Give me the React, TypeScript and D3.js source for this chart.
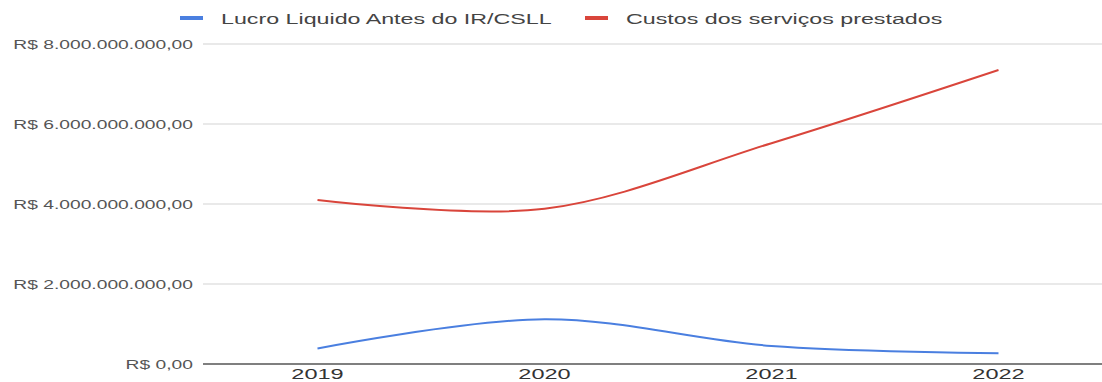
import React from "react";
import * as d3 from "d3";

const years = ["2019", "2020", "2021", "2022"];
const lucroValues = [0.39e9, 1.12e9, 0.45e9, 0.27e9];
const custosValues = [4.1e9, 3.88e9, 5.52e9, 7.35e9];
const yTicks = [0, 2e9, 4e9, 6e9, 8e9];
const seriesNames = ["Lucro Liquido Antes do IR/CSLL", "Custos dos serviços prestados"];
const seriesColors = ["#4a7fe0", "#d9453b"];

const W = 1102;
const H = 382;
const plotLeft = 203;
const plotRight = 1102;
const plotTop = 44;
const plotBottom = 364;

function fmt(v: number) {
  const s = Math.round(v).toString().replace(/\B(?=(\d{3})+(?!\d))/g, ".");
  return "R$ " + s + ",00";
}

export default function App() {
  const x = d3.scalePoint<string>().domain(years).range([317.5, 998.5]);
  const y = d3.scaleLinear().domain([0, 8e9]).range([plotBottom, plotTop]);
  const line = d3
    .line<number>()
    .x((_, i) => x(years[i]) as number)
    .y((d) => y(d))
    .curve(d3.curveCatmullRom.alpha(0.5));
  const series = [lucroValues, custosValues];
  const font = "Arial, 'Liberation Sans', sans-serif";
  const legendX = [180, 585];
  return (
    <svg width={W} height={H} style={{ position: "absolute", left: 0, top: 0, background: "#fff" }}>
      {yTicks.map((t) => (
        <g key={t}>
          {t !== 0 && (
            <line x1={plotLeft} x2={plotRight} y1={y(t)} y2={y(t)} stroke="#e2e2e2" strokeWidth={1.5} />
          )}
          <text
            transform={`translate(193,${y(t) + 4.5}) scale(1.54,1)`}
            textAnchor="end"
            fontFamily={font}
            fontSize={12.5}
            fill="#555"
          >
            {fmt(t)}
          </text>
        </g>
      ))}
      {series.map((s, i) => (
        <path key={i} d={line(s) || ""} fill="none" stroke={seriesColors[i]} strokeWidth={2} />
      ))}
      <line x1={plotLeft} x2={plotRight} y1={y(0)} y2={y(0)} stroke="#555" strokeWidth={1.5} />
      {years.map((yr) => (
        <text
          key={yr}
          transform={`translate(${x(yr)},379) scale(1.57,1)`}
          textAnchor="middle"
          fontFamily={font}
          fontSize={15}
          fill="#333"
        >
          {yr}
        </text>
      ))}
      {seriesNames.map((n, i) => (
        <g key={n}>
          <line x1={legendX[i]} x2={legendX[i] + 23} y1={18} y2={18} stroke={seriesColors[i]} strokeWidth={4} />
          <text
            transform={`translate(${legendX[i] + 41},23.5) scale(1.55,1)`}
            fontFamily={font}
            fontSize={15}
            fill="#444"
          >
            {n}
          </text>
        </g>
      ))}
    </svg>
  );
}
